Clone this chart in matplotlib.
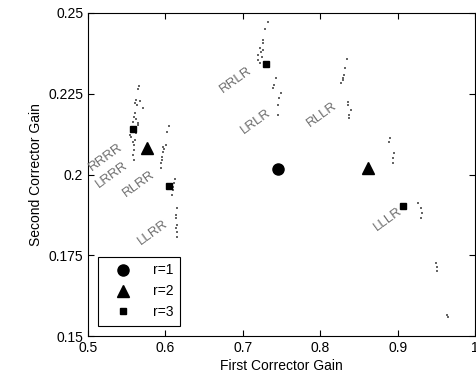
import matplotlib
matplotlib.use("Agg")
import matplotlib.pyplot as plt

plt.rcParams['font.family'] = ['Liberation Sans', 'DejaVu Sans']

# Grey sample points (first gain, second gain)
dots_x = [0.5663, 0.5650, 0.5620, 0.5672, 0.5607, 0.5637, 0.5714, 0.5607, 0.5594, 0.5620,
          0.5650, 0.5650, 0.5578, 0.5543, 0.5552, 0.5620, 0.5607, 0.5594, 0.5594, 0.5585,
          0.5594, 0.5581, 0.5601, 0.5556,
          0.6050, 0.6025, 0.6008, 0.5965, 0.5973, 0.5952, 0.5943, 0.5943, 0.5988, 0.5956,
          0.6124, 0.6111, 0.6094, 0.6081, 0.6098,
          0.6154, 0.6137, 0.6137, 0.6146, 0.6146, 0.6146, 0.6143,
          0.7329, 0.7287, 0.7257, 0.7265, 0.7222, 0.7265, 0.7200, 0.7244, 0.7200, 0.7222, 0.7235,
          0.7429, 0.7403, 0.7394, 0.7490, 0.7472, 0.7459, 0.7459,
          0.8342, 0.8320, 0.8307, 0.8291, 0.8265, 0.8301,
          0.8363, 0.8363, 0.8394, 0.8376, 0.8376,
          0.8902, 0.8893, 0.8953, 0.8937, 0.8944,
          0.9267, 0.9298, 0.9311, 0.9298,
          0.9496, 0.9505, 0.9513,
          0.9634, 0.9647]
dots_y = [0.2274, 0.2264, 0.2231, 0.2228, 0.2220, 0.2215, 0.2205, 0.2189, 0.2179, 0.2171,
          0.2160, 0.2153, 0.2163, 0.2122, 0.2115, 0.2128, 0.2107, 0.2091, 0.2076, 0.2060,
          0.2045, 0.2101, 0.2144, 0.2135,
          0.2150, 0.2133, 0.2091, 0.2086, 0.2071, 0.2055, 0.2035, 0.2019, 0.2079, 0.2045,
          0.1985, 0.1973, 0.1952, 0.1937, 0.1961,
          0.1895, 0.1875, 0.1864, 0.1844, 0.1823, 0.1807, 0.1834,
          0.2471, 0.2450, 0.2416, 0.2406, 0.2391, 0.2385, 0.2370, 0.2365, 0.2354, 0.2344, 0.2379,
          0.2298, 0.2277, 0.2267, 0.2251, 0.2236, 0.2215, 0.2184,
          0.2357, 0.2329, 0.2308, 0.2293, 0.2282, 0.2300,
          0.2225, 0.2215, 0.2200, 0.2184, 0.2174,
          0.2112, 0.2102, 0.2066, 0.2050, 0.2035,
          0.1911, 0.1895, 0.1880, 0.1864,
          0.1725, 0.1715, 0.1702,
          0.1565, 0.1560]

r1_x = [0.7455]
r1_y = [0.2017]
r2_x = [0.5762, 0.8621]
r2_y = [0.2083, 0.2019]
r3_x = [0.5585, 0.6047, 0.7296, 0.9066]
r3_y = [0.2141, 0.1964, 0.2342, 0.1902]

labels = ['RRLR', 'LRLR', 'RLLR', 'RRRR', 'LRRR', 'RLRR', 'LLRR', 'LLLR']
label_x = [0.6912, 0.7171, 0.8023, 0.5233, 0.5310, 0.5659, 0.5840, 0.8876]
label_y = [0.2293, 0.2163, 0.2184, 0.2054, 0.1998, 0.1971, 0.1819, 0.1862]

fig = plt.figure(figsize=(4.77, 3.85), dpi=100)
ax = fig.add_axes([88/477, 1-336/385, (475-88)/477, (336-13)/385])

ax.plot(dots_x, dots_y, linestyle='none', marker='s', markersize=2.0,
        color='#666666', markeredgewidth=0)
ax.plot(r1_x, r1_y, linestyle='none', marker='o', markersize=8, color='black', label='r=1')
ax.plot(r2_x, r2_y, linestyle='none', marker='^', markersize=8, color='black', label='r=2')
ax.plot(r3_x, r3_y, linestyle='none', marker='s', markersize=5, color='black', label='r=3')

for t, x, y in zip(labels, label_x, label_y):
    ax.text(x, y, t, rotation=36, ha='center', va='center', fontsize=9.5,
            color='#6e6e6e', rotation_mode='anchor')

ax.set_xlim(0.5, 1.0)
ax.set_ylim(0.15, 0.25)
ax.set_xticks([0.5, 0.6, 0.7, 0.8, 0.9, 1.0])
ax.set_xticklabels(['0.5', '0.6', '0.7', '0.8', '0.9', '1'])
ax.set_yticks([0.15, 0.175, 0.2, 0.225, 0.25])
ax.set_yticklabels(['0.15', '0.175', '0.2', '0.225', '0.25'])
ax.tick_params(direction='in', top=True, right=True, labelsize=10, length=4, width=0.8)
for s in ax.spines.values():
    s.set_linewidth(0.8)
ax.set_xlabel('First Corrector Gain', fontsize=10, labelpad=3)
ax.set_ylabel('Second Corrector Gain', fontsize=10, labelpad=4)

leg = ax.legend(loc='lower left', fontsize=10, frameon=True, fancybox=False,
                edgecolor='black', framealpha=1, borderaxespad=0.75,
                handlelength=2.6, handletextpad=0.9, labelspacing=0.5,
                borderpad=0.45)
leg.get_frame().set_linewidth(0.8)

fig.savefig('out.png', dpi=100)
